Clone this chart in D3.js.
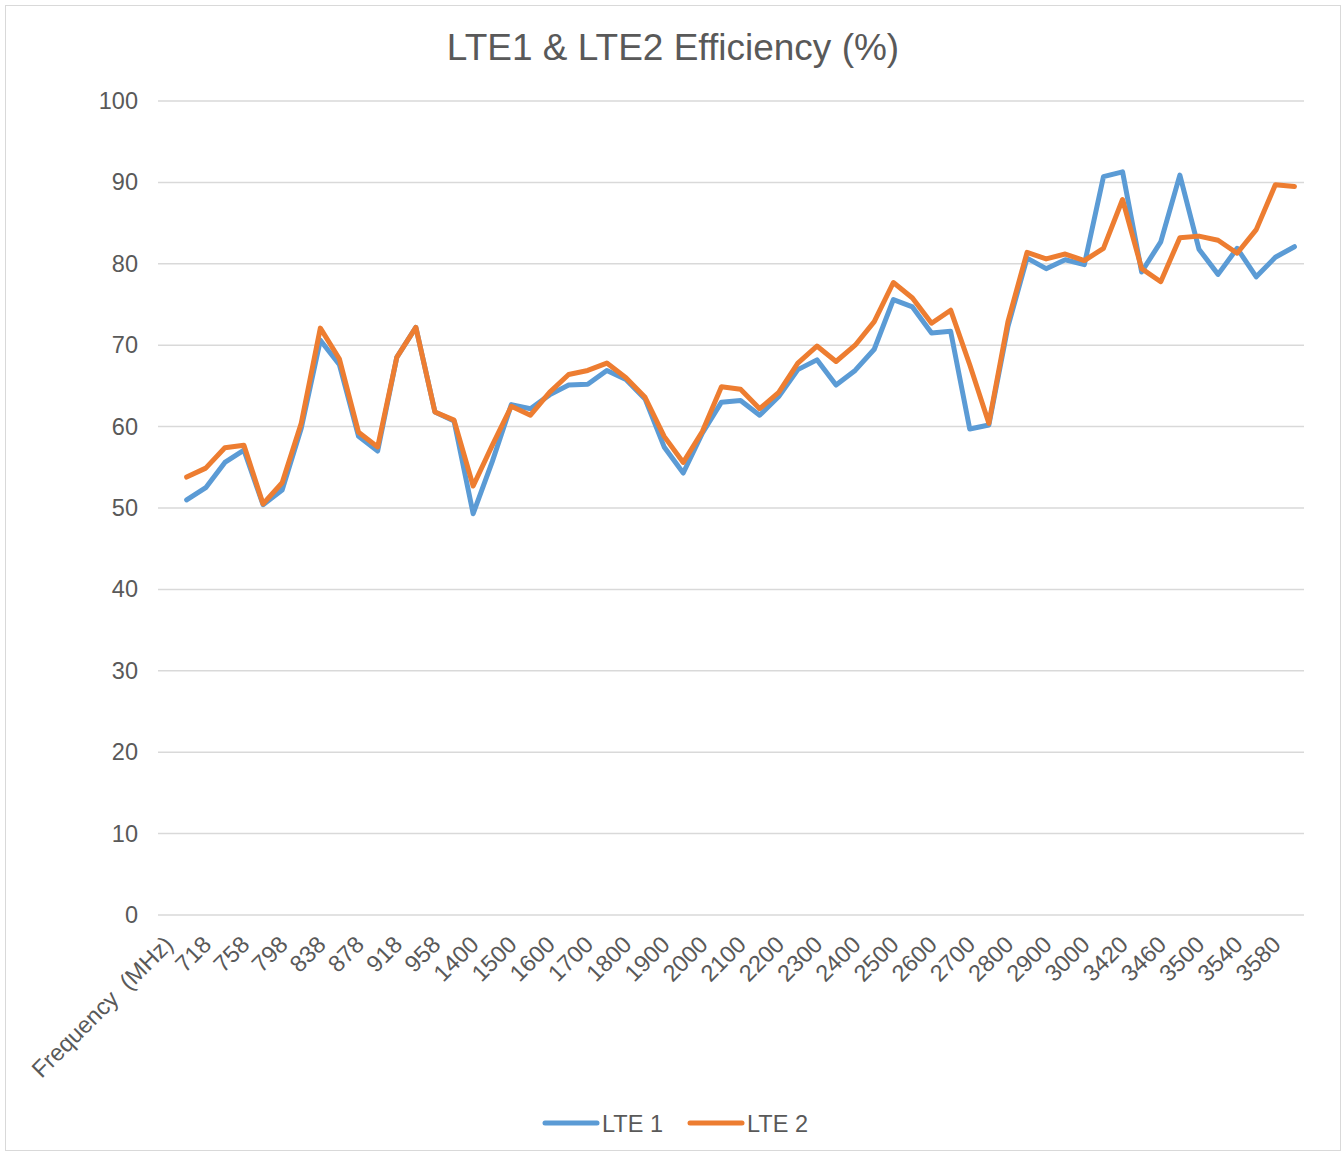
<!DOCTYPE html>
<html>
<head>
<meta charset="utf-8">
<script src="https://cdn.jsdelivr.net/npm/d3@7.9.0/dist/d3.min.js"></script>
<style>
  body { margin: 0; background: #fff; }
  text { font-family: "Liberation Sans", Arial, sans-serif; fill: #595959; }
</style>
</head>
<body>
<div id="chart"></div>
<script>
// categories (every other one is labelled on the axis)
const categories = [
  'Frequency  (MHz)', '698', '718', '738', '758', '778', '798', '818', '838', '858',
  '878', '898', '918', '938', '958', '960', '1400', '1450', '1500', '1550',
  '1600', '1650', '1700', '1750', '1800', '1850', '1900', '1950', '2000', '2050',
  '2100', '2150', '2200', '2250', '2300', '2350', '2400', '2450', '2500', '2550',
  '2600', '2650', '2700', '2750', '2800', '2850', '2900', '2950', '3000', '3400',
  '3420', '3440', '3460', '3480', '3500', '3520', '3540', '3560', '3580', '3600'
];

const lte1 = [
  null, 51.0, 52.5, 55.6, 57.1, 50.4, 52.2, 59.8, 70.6, 67.6,
  58.8, 57.0, 68.5, 72.2, 61.8, 60.7, 49.3, 55.7, 62.7, 62.2,
  63.9, 65.1, 65.2, 66.9, 65.8, 63.4, 57.5, 54.3, 59.2, 63.0,
  63.2, 61.4, 63.7, 67.0, 68.2, 65.1, 66.9, 69.5, 75.6, 74.7,
  71.5, 71.7, 59.7, 60.2, 72.3, 80.7, 79.4, 80.5, 79.9, 90.7,
  91.3, 79.0, 82.7, 90.9, 81.8, 78.7, 81.9, 78.4, 80.8, 82.1
];

const lte2 = [
  null, 53.8, 54.9, 57.4, 57.7, 50.5, 53.1, 60.4, 72.1, 68.3,
  59.3, 57.5, 68.5, 72.2, 61.8, 60.8, 52.7, 57.7, 62.5, 61.4,
  64.2, 66.4, 66.9, 67.8, 66.0, 63.6, 58.8, 55.6, 59.4, 64.9,
  64.6, 62.2, 64.2, 67.8, 69.9, 68.0, 70.0, 72.9, 77.7, 75.8,
  72.7, 74.3, 67.6, 60.4, 72.9, 81.4, 80.6, 81.2, 80.4, 81.9,
  87.9, 79.4, 77.8, 83.2, 83.4, 82.9, 81.3, 84.2, 89.7, 89.5
];

const yTicks = [0, 10, 20, 30, 40, 50, 60, 70, 80, 90, 100];

const series = [
  { name: 'LTE 1', values: lte1, color: '#5B9BD5' },
  { name: 'LTE 2', values: lte2, color: '#ED7D31' }
];

const width = 1344;
const height = 1156;
const plot = { left: 158, right: 1304, top: 101, bottom: 915 };

const svg = d3.select('#chart')
  .append('svg')
  .attr('width', width)
  .attr('height', height);

// outer chart frame
svg.append('rect')
  .attr('x', 5.5).attr('y', 5.5)
  .attr('width', 1335).attr('height', 1145)
  .attr('fill', '#fff')
  .attr('stroke', '#D9D9D9')
  .attr('stroke-width', 1);

const x = d3.scaleBand().domain(categories).range([plot.left, plot.right]);
const y = d3.scaleLinear().domain([0, 100]).range([plot.bottom, plot.top]);
const cx = (d) => x(d) + x.bandwidth() / 2;

// gridlines
svg.append('g')
  .selectAll('line')
  .data(yTicks)
  .join('line')
  .attr('x1', plot.left).attr('x2', plot.right)
  .attr('y1', (d) => y(d)).attr('y2', (d) => y(d))
  .attr('stroke', '#D9D9D9')
  .attr('stroke-width', 1.5);

// y axis labels
const yAxis = d3.axisLeft(y).tickValues(yTicks).tickSize(0).tickPadding(20);
svg.append('g')
  .attr('transform', `translate(${plot.left},0)`)
  .call(yAxis)
  .call((g) => g.select('.domain').remove())
  .selectAll('text')
  .style('font-size', '23.5px')
  .attr('fill', '#595959');

// x axis labels (every other category), rotated
svg.append('g')
  .selectAll('text')
  .data(categories.filter((d, i) => i % 2 === 0))
  .join('text')
  .attr('transform', (d) => `translate(${cx(d) + 7},${plot.bottom + 31}) rotate(-45)`)
  .attr('text-anchor', 'end')
  .style('font-size', '23.5px')
  .style('white-space', 'pre')
  .text((d) => d);

// lines
const line = d3.line()
  .defined((d) => d != null)
  .x((d, i) => cx(categories[i]))
  .y((d) => y(d));

svg.append('g')
  .selectAll('path')
  .data(series)
  .join('path')
  .attr('d', (s) => line(s.values))
  .attr('fill', 'none')
  .attr('stroke', (s) => s.color)
  .attr('stroke-width', 5)
  .attr('stroke-linejoin', 'round')
  .attr('stroke-linecap', 'round');

// title
svg.append('text')
  .attr('x', 673).attr('y', 60)
  .attr('text-anchor', 'middle')
  .style('font-size', '37px')
  .text('LTE1 & LTE2 Efficiency (%)');

// legend
const legend = svg.append('g').attr('transform', 'translate(0,1123)');
const legendX = [545, 690];
series.forEach((s, i) => {
  const gx = legendX[i];
  legend.append('line')
    .attr('x1', gx).attr('x2', gx + 52)
    .attr('y1', 0).attr('y2', 0)
    .attr('stroke', s.color)
    .attr('stroke-width', 5)
    .attr('stroke-linecap', 'round');
  legend.append('text')
    .attr('x', gx + 57).attr('y', 8.5)
    .style('font-size', '23.5px')
    .text(s.name);
});
</script>
</body>
</html>
